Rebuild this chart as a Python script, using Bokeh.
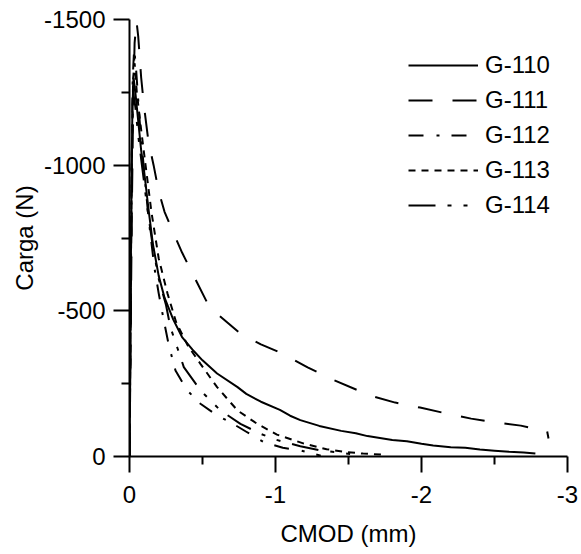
from bokeh.plotting import figure
from bokeh.models import Range1d, FixedTicker, Legend, LegendItem
from bokeh.embed import file_html
from bokeh.resources import INLINE

# CMOD (mm, negative) and load (N, negative)
g110_x = [0, 0.005, 0.01, 0.015, 0.02, 0.028, 0.04, 0.06, 0.08, 0.1, 0.13, 0.16, 0.2, 0.24, 0.3,
          0.36, 0.44, 0.5, 0.6, 0.74, 0.8, 0.9, 1.03, 1.1, 1.17, 1.3, 1.45, 1.55, 1.63, 1.8, 1.9,
          2.0, 2.08, 2.2, 2.3, 2.4, 2.5, 2.6, 2.7, 2.78]
g110_y = [0, 300, 700, 1000, 1200, 1300, 1250, 1150, 1050, 980, 850, 730, 620, 545, 470,
          410, 362, 330, 285, 238, 215, 188, 160, 140, 125, 105, 88, 80, 70, 57, 52,
          44, 38, 32, 30, 24, 20, 16, 14, 10]

g111_x = [0, 0.008, 0.015, 0.025, 0.035, 0.048, 0.06, 0.08, 0.1, 0.13, 0.165, 0.2, 0.24, 0.29,
          0.36, 0.46, 0.53, 0.6, 0.76, 0.9, 1.03, 1.22, 1.4, 1.65, 1.82, 1.99, 2.15, 2.34, 2.5,
          2.68, 2.8, 2.86, 2.87]
g111_y = [0, 400, 800, 1200, 1420, 1495, 1440, 1300, 1200, 1080, 1000, 910, 840, 780,
          700, 600, 530, 490, 422, 385, 357, 306, 262, 209, 185, 168, 150, 130, 118,
          106, 92, 88, 62]

g112_x = [0, 0.008, 0.015, 0.022, 0.032, 0.045, 0.07, 0.1, 0.13, 0.17, 0.2, 0.235, 0.27, 0.315,
          0.395, 0.486, 0.6, 0.71, 0.8, 0.92, 1.05, 1.17, 1.31]
g112_y = [0, 500, 1000, 1300, 1400, 1330, 1150, 980, 820, 650, 560, 467, 380, 295,
          227, 181, 141, 112, 85, 49, 30, 21, 3]

g113_x = [0, 0.008, 0.015, 0.025, 0.035, 0.05, 0.08, 0.11, 0.15, 0.2, 0.26, 0.32, 0.4, 0.486,
          0.6, 0.74, 0.875, 1.01, 1.19, 1.35, 1.49, 1.6, 1.74]
g113_y = [0, 500, 1000, 1300, 1350, 1250, 1120, 1000, 840, 680, 560, 460, 380, 318,
          238, 158, 112, 75, 45, 25, 15, 10, 6]

g114_x = [0, 0.008, 0.015, 0.025, 0.04, 0.06, 0.09, 0.12, 0.16, 0.2, 0.25, 0.28, 0.33, 0.372,
          0.486, 0.623, 0.76, 0.897, 1.0, 1.17, 1.3, 1.45, 1.55]
g114_y = [0, 500, 1000, 1250, 1200, 1100, 980, 860, 720, 610, 520, 444, 370, 307,
          227, 158, 112, 78, 58, 35, 22, 12, 6]

series = [
    ("G-110", g110_x, g110_y, "solid"),
    ("G-111", g111_x, g111_y, "24 20"),
    ("G-112", g112_x, g112_y, "15 13 3 12"),
    ("G-113", g113_x, g113_y, "7 6"),
    ("G-114", g114_x, g114_y, "27 12 4 12 4 12"),
]

x_ticks = [0, -1, -2, -3]
x_minor = [-0.5, -1.5, -2.5]
y_ticks = [0, -500, -1000, -1500]
y_minor = [-250, -750, -1250]

FONT = "Liberation Sans"

p = figure(width=581, height=554, output_backend="svg", toolbar_location=None,
           x_range=Range1d(0, -3), y_range=Range1d(0, -1500),
           min_border_left=129, min_border_right=14, min_border_top=19, min_border_bottom=98)
p.outline_line_color = None
p.xgrid.visible = False
p.ygrid.visible = False
p.background_fill_color = "white"
p.border_fill_color = "white"

items = []
for name, xs, ys, dash in series:
    r = p.line([-v for v in xs], [-v for v in ys], line_color="black", line_width=2,
               line_dash=dash)
    items.append(LegendItem(label=name, renderers=[r]))

for ax, ticks, minor in ((p.xaxis[0], x_ticks, x_minor), (p.yaxis[0], y_ticks, y_minor)):
    ax.ticker = FixedTicker(ticks=ticks, minor_ticks=minor)
    ax.major_label_overrides = {t: str(t) for t in ticks}
    ax.axis_line_width = 2
    ax.axis_line_color = "black"
    ax.major_tick_line_width = 2
    ax.major_tick_line_color = "black"
    ax.minor_tick_line_width = 2
    ax.minor_tick_line_color = "black"
    ax.major_tick_out = 16
    ax.major_tick_in = 0
    ax.minor_tick_out = 8
    ax.minor_tick_in = 0
    ax.major_label_text_font = FONT
    ax.major_label_text_font_size = "24px"
    ax.major_label_text_color = "black"
    ax.axis_label_text_font = FONT
    ax.axis_label_text_font_size = "24px"
    ax.axis_label_text_font_style = "normal"
    ax.axis_label_text_color = "black"

p.xaxis.axis_label = "CMOD (mm)"
p.yaxis.axis_label = "Carga (N)"
p.xaxis.major_label_standoff = 13
p.yaxis.major_label_standoff = 8
p.xaxis.axis_label_standoff = 14
p.yaxis.axis_label_standoff = 3

legend = Legend(items=items, location=(279, 237), padding=0, margin=0,
                glyph_width=70, glyph_height=24, label_height=24, spacing=7,
                label_standoff=7, label_text_font=FONT, label_text_font_size="24px",
                label_text_color="black",
                background_fill_alpha=0, border_line_color=None)
p.add_layout(legend, "center")

open("out.html", "w").write(file_html(p, INLINE))
